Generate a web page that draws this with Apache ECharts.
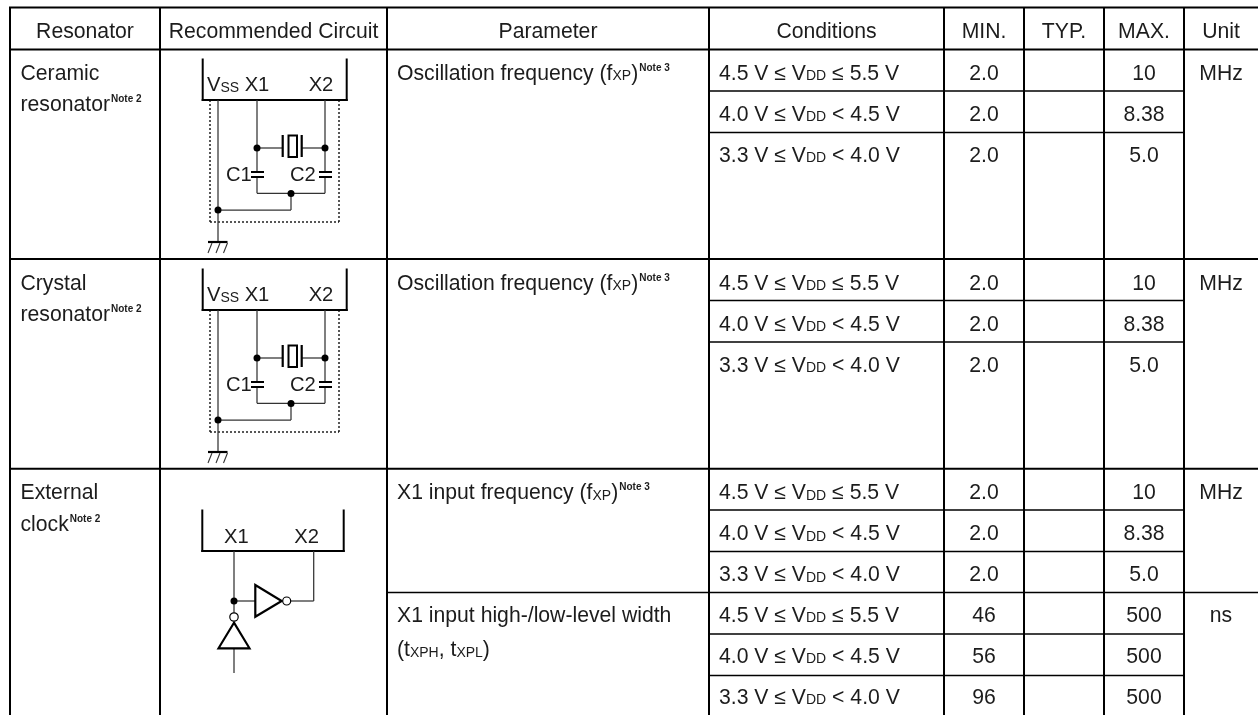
<!DOCTYPE html>
<html><head><meta charset="utf-8">
<style>html,body{margin:0;padding:0;background:#fff}#c{width:1258px;height:715px}</style>
<script src="https://cdn.jsdelivr.net/npm/echarts@6/dist/echarts.min.js"></script></head>
<body><div id="c"></div>
<script>
const headers = ['Resonator','Recommended Circuit','Parameter','Conditions','MIN.','TYP.','MAX.','Unit'];
const resonators = [['Ceramic','resonator{n2|Note 2}'],['Crystal','resonator{n2|Note 2}'],['External','clock{n2|Note 2}']];
const parameters = [
  ['Oscillation frequency (f{s|XP}){n3|Note 3}'],
  ['Oscillation frequency (f{s|XP}){n3|Note 3}'],
  ['X1 input frequency (f{s|XP}){n3|Note 3}'],
  ['X1 input high-/low-level width','(t{s|XPH}, t{s|XPL})']
];
const conditions = ['4.5 V ≤ V{s|DD} ≤ 5.5 V','4.0 V ≤ V{s|DD} < 4.5 V','3.3 V ≤ V{s|DD} < 4.0 V'];
const minValues = [['2.0','2.0','2.0'],['2.0','2.0','2.0'],['2.0','2.0','2.0'],['46','56','96']];
const maxValues = [['10','8.38','5.0'],['10','8.38','5.0'],['10','8.38','5.0'],['500','500','500']];
const units = ['MHz','MHz','MHz','ns'];

const FONT = '"Liberation Sans", Arial, sans-serif';
const FS = 21.2, INK = '#1c1c1c', RULE = '#000', WIRE = '#333';
const colX = [10,160,387,709,944,1024,1104,1184];
const rightEnd = 1258, tableTop = 7.5, tableBottom = 715;
const headY = 49.5;
const centers = [85,273.5,548,826.5,984,1064,1144,1221];
const blockTop = [49.5,259,468.7,592.5];
const blockBase = [81.5,291.5,501,623.5];
const subRules = [91,132.5,300.5,342,510,551.5,634,675.5];

const cells = [];
function cell(x,y,text,align,fs){cells.push({x,y,text,align:align||'left',fs:fs||FS});}
headers.forEach((h,i)=>cell(centers[i],39.5,h,'center'));
resonators.forEach((r,i)=>{cell(20.5,blockBase[i],r[0]);cell(20.5,blockBase[i]+31.5,r[1]);});
parameters.forEach((p,i)=>{cell(397,blockBase[i],p[0]); if(p[1]) cell(397,blockBase[i]+34.5,p[1]);});
parameters.forEach((p,i)=>{
  conditions.forEach((c,j)=>{
    const y=blockBase[i]+j*41;
    cell(719,y,c);
    cell(centers[4],y,minValues[i][j],'center');
    cell(centers[6],y,maxValues[i][j],'center');
  });
  cell(centers[7],blockBase[i],units[i],'center');
});

const rules = [];
colX.forEach(x=>rules.push([x,tableTop,x,tableBottom,2]));
rules.push([colX[0]-1,tableTop,rightEnd,tableTop,2]);
rules.push([colX[0]-1,headY,rightEnd,headY,2]);
rules.push([colX[0],blockTop[1],rightEnd,blockTop[1],2]);
rules.push([colX[0],blockTop[2],rightEnd,blockTop[2],2]);
rules.push([colX[2],blockTop[3],rightEnd,blockTop[3],1.6]);
subRules.forEach(y=>rules.push([colX[3],y,colX[7],y,1.6]));

const circuits = [{kind:'xtal',dy:0},{kind:'xtal',dy:210},{kind:'ext',dy:0}];

function stroke(w,c,dash){const s={stroke:c||WIRE,lineWidth:w||1.25,fill:'none'}; if(dash) s.lineDash=dash; return s;}
function renderCircuit(params,api){
  const c=circuits[params.dataIndex];
  const dy=api.value(1);
  const P=(x,y)=>api.coord([x,y+dy]);
  const out=[];
  const L=(x1,y1,x2,y2,w,col,dash)=>{const a=P(x1,y1),b=P(x2,y2);out.push({type:'line',shape:{x1:a[0],y1:a[1],x2:b[0],y2:b[1]},style:stroke(w,col,dash)});};
  const D=(x,y,r,hollow)=>{const a=P(x,y);out.push({type:'circle',shape:{cx:a[0],cy:a[1],r},style:hollow?{fill:'#fff',stroke:'#000',lineWidth:1.2}:{fill:'#000'}});};
  const T=(x,y,t,al)=>{const a=P(x,y);out.push(textEl(a[0],a[1],t,al||'left',FS-1));};
  const Tri=(pts)=>{out.push({type:'polygon',shape:{points:pts.map(p=>P(p[0],p[1]))},style:{fill:'#fff',stroke:'#000',lineWidth:2.2}});};
  if(c.kind==='xtal'){
    L(210,100,210,222,1.4,'#111',[2,2]);L(339,100,339,222,1.4,'#111',[2,2]);L(210,222,339,222,1.4,'#111',[2,2]);
    L(202.7,58.5,202.7,101,2,'#000');L(346.7,58.5,346.7,101,2,'#000');L(201.7,100,347.7,100,2.2,'#000');
    T(207,93,'V{s|SS}');T(257,93,'X1','center');T(321,93,'X2','center');
    L(218,100,218,242);L(257,100,257,172);L(257,177,257,193.3);L(325,100,325,172);L(325,177,325,193.3);
    L(257,148,282,148);L(302,148,325,148);
    L(282.7,135,282.7,157,2.2,'#000');L(301.7,135,301.7,157,2.2,'#000');
    const r0=P(288.5,135.5),r1=P(297,157);
    out.push({type:'rect',shape:{x:r0[0],y:r0[1],width:r1[0]-r0[0],height:r1[1]-r0[1]},style:{fill:'#fff',stroke:'#000',lineWidth:2}});
    L(251,172,264,172,2,'#000');L(251,177,264,177,2,'#000');L(319,172,332,172,2,'#000');L(319,177,332,177,2,'#000');
    T(226,182.5,'C1');T(290,182.5,'C2');
    L(257,193.3,325,193.3);L(291,193.3,291,210);L(218,210,291,210);
    D(257,148,3.5);D(325,148,3.5);D(291,193.5,3.5);D(218,210,3.5);
    L(208,242,227.5,242,2.2,'#000');
    [[212,243,208,253],[220,243,216,253],[227.5,243,223.5,253]].forEach(h=>L(h[0],h[1],h[2],h[3],1.1));
  } else {
    L(202.3,509.5,202.3,552,2,'#000');L(343.7,509.5,343.7,552,2,'#000');L(201.3,551,344.7,551,2.2,'#000');
    T(236.3,545,'X1','center');T(306.7,545,'X2','center');
    L(234,551,234,613);L(313.7,551,313.7,601);L(234,601,255.3,601);L(291,601,313.7,601);
    L(234,648,234,673);
    Tri([[255.3,585],[255.3,616.7],[281.7,601]]);
    D(286.7,601,4,true);D(234,601,3.5);
    Tri([[234,622.7],[218.5,648.3],[249.5,648.3]]);
    D(234,617,4.2,true);
  }
  return {type:'group',children:out};
}
function textEl(x,baseY,text,align,fs){
  const f=fs;
  const sub=14;
  const dropS=0.36*(f-sub);
  return {type:'text',style:{
    text:text,x:x,y:baseY-0.36*f,align:align,verticalAlign:'middle',
    font:f+'px '+FONT,fill:INK,lineHeight:f+12,
    rich:{
      s:{font:sub+'px '+FONT,fill:INK,padding:[Math.round(dropS*2),0,0,0]},
      n2:{font:'bold 10px '+FONT,fill:INK,padding:[0,0,12,1]},
      n3:{font:'bold 10px '+FONT,fill:INK,padding:[0,0,12,1]}
    }
  }};
}
function renderCell(params,api){
  const c=cells[params.dataIndex];
  const a=api.coord([api.value(0),api.value(1)]);
  return textEl(a[0],a[1],c.text,c.align,c.fs);
}
function renderRule(params,api){
  const a=api.coord([api.value(0),api.value(1)]),b=api.coord([api.value(2),api.value(3)]);
  return {type:'line',shape:{x1:a[0],y1:a[1],x2:b[0],y2:b[1]},style:{stroke:RULE,lineWidth:api.value(4)}};
}
const chart=echarts.init(document.getElementById('c'),null,{renderer:'canvas'});
const base={type:'custom',silent:true,clip:false,animation:false,coordinateSystem:'cartesian2d'};
chart.setOption({
  animation:false,backgroundColor:'#fff',
  grid:{left:0,right:0,top:0,bottom:0},
  xAxis:{type:'value',min:0,max:1258,show:false},
  yAxis:{type:'value',min:0,max:715,inverse:true,show:false},
  tooltip:{show:false},
  series:[
    Object.assign({},base,{name:'rules',data:rules,renderItem:renderRule,encode:{x:[0,2],y:[1,3]}}),
    Object.assign({},base,{name:'circuits',data:circuits.map(c=>[0,c.dy]),renderItem:renderCircuit}),
    Object.assign({},base,{name:'cells',data:cells.map(c=>[c.x,c.y]),renderItem:renderCell})
  ]
});
</script></body></html>
